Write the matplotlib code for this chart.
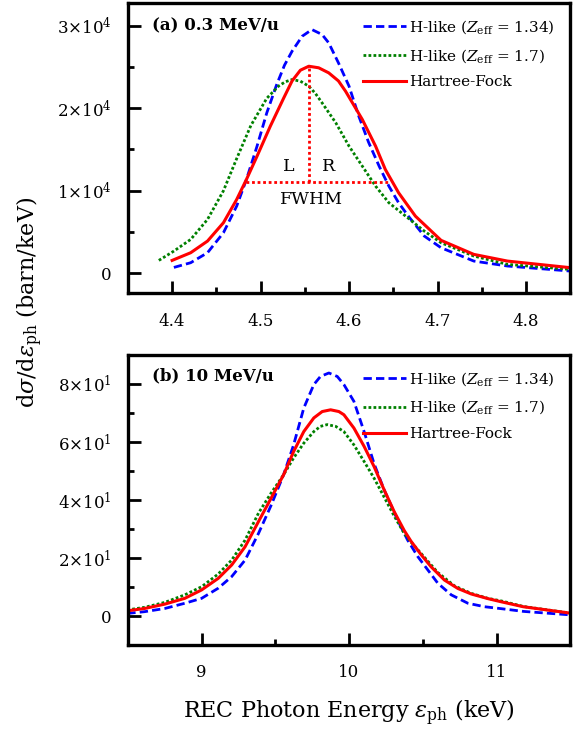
import matplotlib
matplotlib.use('Agg')
import matplotlib.pyplot as plt
from matplotlib.ticker import MultipleLocator, FixedLocator, FixedFormatter

plt.rcParams['font.family'] = ['DejaVu Serif']
plt.rcParams['mathtext.fontset'] = 'dejavuserif'

# ---- panel (a): 0.3 MeV/u ----
e_blue_a = [4.402, 4.421, 4.440, 4.458, 4.473, 4.484, 4.496, 4.507, 4.518, 4.527, 4.5356, 4.547,
            4.558, 4.5695, 4.577, 4.588, 4.600, 4.611, 4.622, 4.634, 4.645, 4.656, 4.667, 4.685,
            4.704, 4.741, 4.779, 4.850]
v_blue_a = [720, 1290, 2500, 4920, 8150, 11370, 15400, 19430, 22800, 25200, 26900, 28710,
            29520, 28920, 27910, 25490, 22660, 19030, 15890, 12980, 10560, 8550, 6930, 4520,
            3100, 1490, 890, 280]

e_green_a = [4.385, 4.402, 4.421, 4.440, 4.458, 4.473, 4.489, 4.507, 4.5206, 4.528, 4.5356, 4.545,
             4.5545, 4.562, 4.5695, 4.585, 4.600, 4.615, 4.630, 4.645, 4.664, 4.685, 4.704, 4.741,
             4.779, 4.850]
v_green_a = [1570, 2700, 4110, 6530, 10000, 13900, 17900, 21200, 22700, 23200, 23470, 23270,
             22660, 21780, 20650, 18230, 15400, 12980, 10560, 8550, 6930, 5120, 3710, 2100,
             1090, 480]

e_red_a = [4.400, 4.421, 4.440, 4.458, 4.473, 4.484, 4.496, 4.511, 4.526, 4.5356, 4.545, 4.5545,
           4.5657, 4.577, 4.588, 4.596, 4.615, 4.630, 4.641, 4.656, 4.675, 4.704, 4.741, 4.779,
           4.850]
v_red_a = [1570, 2500, 3910, 6130, 8950, 11370, 14190, 17820, 21200, 23300, 24600, 25080,
           24890, 24280, 23300, 22060, 18630, 15400, 12580, 9760, 6930, 4000, 2300, 1490,
           690]

# FWHM construction on the Hartree-Fock curve
fwhm_peak_e = 4.5545
fwhm_peak_v = 25080
fwhm_level = 11100
fwhm_left = 4.483
fwhm_right = 4.645

# ---- panel (b): 10 MeV/u ----
e_blue_b = [8.496, 8.613, 8.750, 8.886, 9.000, 9.113, 9.204, 9.295, 9.386, 9.470, 9.556, 9.624,
            9.693, 9.761, 9.806, 9.863, 9.920, 9.965, 10.033, 10.102, 10.170, 10.238, 10.329,
            10.397, 10.466, 10.534, 10.602, 10.693, 10.806, 10.920, 11.022, 11.182, 11.500]
v_blue_b = [0.9, 1.5, 2.6, 4.4, 6.1, 9.6, 13.6, 19.3, 28.5, 38.0, 48.7, 59.0,
            71.7, 79.8, 82.6, 83.8, 82.6, 79.8, 74.0, 63.6, 52.5, 43.5, 33.1,
            26.2, 20.5, 15.9, 11.3, 7.3, 4.4, 3.2, 2.6, 1.6, 0.4]

e_green_b = [8.496, 8.613, 8.750, 8.886, 9.000, 9.113, 9.204, 9.295, 9.386, 9.470, 9.556, 9.624,
             9.693, 9.761, 9.806, 9.852, 9.909, 9.965, 10.033, 10.102, 10.170, 10.238, 10.306,
             10.374, 10.420, 10.488, 10.602, 10.715, 10.829, 10.942, 11.033, 11.182, 11.500]
v_green_b = [2.1, 3.0, 4.7, 7.3, 10.1, 14.5, 19.3, 26.2, 35.5, 42.3, 48.7, 54.5,
             59.6, 63.6, 65.4, 66.0, 65.4, 63.6, 59.0, 53.3, 47.5, 41.0, 34.5,
             28.5, 25.5, 21.6, 15.0, 10.4, 7.8, 6.1, 5.2, 3.3, 1.0]

e_red_b = [8.496, 8.613, 8.750, 8.886, 9.000, 9.113, 9.204, 9.295, 9.386, 9.470, 9.556, 9.624,
           9.693, 9.761, 9.818, 9.875, 9.931, 9.965, 10.033, 10.102, 10.170, 10.238, 10.306,
           10.374, 10.420, 10.488, 10.556, 10.647, 10.738, 10.829, 10.942, 11.033, 11.182,
           11.500]
v_red_b = [1.8, 2.6, 4.1, 6.1, 9.0, 13.0, 17.6, 23.9, 32.6, 40.5, 48.7, 56.7,
           63.6, 68.3, 70.5, 71.1, 70.5, 69.4, 64.8, 58.5, 51.5, 43.5, 36.0,
           29.5, 25.8, 21.2, 17.0, 12.4, 9.5, 7.6, 6.0, 4.9, 3.2,
           1.0]

labels = [r'H-like ($Z_{\rm eff}$ = 1.34)', r'H-like ($Z_{\rm eff}$ = 1.7)', 'Hartree-Fock']

yticks_a = [0, 10000, 20000, 30000]
yticklabels_a = ['0', r'1×10$^4$', r'2×10$^4$', r'3×10$^4$']
yticks_b = [0, 20, 40, 60, 80]
yticklabels_b = ['0', r'2×10$^1$', r'4×10$^1$', r'6×10$^1$', r'8×10$^1$']

blue = '#0000ff'
green = '#008000'
red = '#ff0000'

fig = plt.figure(figsize=(5.76, 7.33), dpi=100)
ax1 = fig.add_axes([0.222, 0.600, 0.768, 0.3955])
ax2 = fig.add_axes([0.222, 0.120, 0.768, 0.3957])


def draw_curves(ax, eb, vb, eg, vg, er, vr):
    ax.plot(eb, vb, color=blue, lw=2, linestyle=(0, (3, 1.5)), label=labels[0])
    ax.plot(eg, vg, color=green, lw=2, linestyle=(0, (1, 0.8)), label=labels[1])
    ax.plot(er, vr, color=red, lw=2.2, linestyle='-', label=labels[2])
    ax.legend(loc='upper left', bbox_to_anchor=(0.531, 0.948), frameon=False, fontsize=11,
              handlelength=2.85, handletextpad=0.2, labelspacing=0.7, borderpad=0,
              borderaxespad=0)


def style_axes(ax):
    for sp in ax.spines.values():
        sp.set_linewidth(2.4)
    ax.tick_params(which='both', direction='in', top=False, right=False, width=2,
                   labelsize=12)
    ax.tick_params(axis='y', pad=12)
    ax.tick_params(axis='x', pad=14)
    ax.tick_params(which='major', length=9)
    ax.tick_params(which='minor', length=4.5)


draw_curves(ax1, e_blue_a, v_blue_a, e_green_a, v_green_a, e_red_a, v_red_a)
ax1.plot([fwhm_peak_e, fwhm_peak_e], [fwhm_level, fwhm_peak_v], color=red, lw=2,
         linestyle=(0, (1, 1)))
ax1.plot([fwhm_left, fwhm_right], [fwhm_level, fwhm_level], color=red, lw=2,
         linestyle=(0, (1, 1)))
ax1.text(4.532, 13000, 'L', fontsize=12.5, ha='center', va='center')
ax1.text(4.577, 13000, 'R', fontsize=12.5, ha='center', va='center')
ax1.text(4.558, 8950, 'FWHM', fontsize=12.5, ha='center', va='center')
ax1.text(0.054, 0.922, '(a) 0.3 MeV/u', transform=ax1.transAxes, fontsize=12,
         fontweight='bold', ha='left', va='center')
ax1.set_xlim(4.35, 4.85)
ax1.set_ylim(-2400, 32700)
ax1.xaxis.set_major_locator(MultipleLocator(0.1))
ax1.xaxis.set_minor_locator(MultipleLocator(0.05))
ax1.yaxis.set_major_locator(FixedLocator(yticks_a))
ax1.yaxis.set_major_formatter(FixedFormatter(yticklabels_a))
ax1.yaxis.set_minor_locator(MultipleLocator(5000))
style_axes(ax1)

draw_curves(ax2, e_blue_b, v_blue_b, e_green_b, v_green_b, e_red_b, v_red_b)
ax2.text(0.054, 0.928, '(b) 10 MeV/u', transform=ax2.transAxes, fontsize=12,
         fontweight='bold', ha='left', va='center')
ax2.set_xlim(8.5, 11.5)
ax2.set_ylim(-10, 90)
ax2.xaxis.set_major_locator(MultipleLocator(1))
ax2.xaxis.set_minor_locator(MultipleLocator(0.5))
ax2.yaxis.set_major_locator(FixedLocator(yticks_b))
ax2.yaxis.set_major_formatter(FixedFormatter(yticklabels_b))
ax2.yaxis.set_minor_locator(MultipleLocator(10))
style_axes(ax2)
ax2.set_xlabel(r'REC Photon Energy $\varepsilon_{\rm ph}$ (keV)', fontsize=16, labelpad=12)

fig.text(0.052, 0.587, r'd$\sigma$/d$\varepsilon_{\rm ph}$ (barn/keV)', rotation=90,
         fontsize=16, ha='center', va='center')

fig.savefig('out.png', dpi=100)
